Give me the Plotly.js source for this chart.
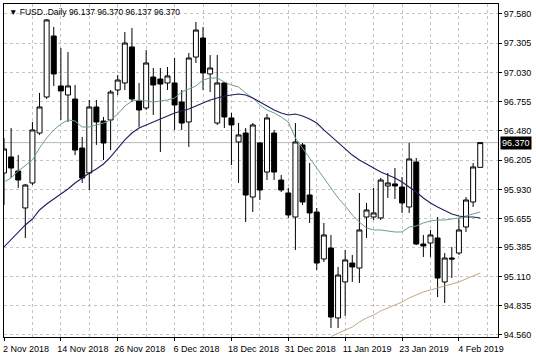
<!DOCTYPE html>
<html>
<head>
<meta charset="utf-8">
<script src="https://cdn.plot.ly/plotly-3.0.1.min.js"></script>
<style>
html,body{margin:0;padding:0;background:#fff;}
#chart{width:536px;height:358px;}
</style>
</head>
<body>
<div id="chart"></div>
<script>
const symbol = 'FUSD..Daily';

const dates = [
'2018-11-02','2018-11-05','2018-11-06','2018-11-07','2018-11-08','2018-11-09','2018-11-12','2018-11-13','2018-11-14','2018-11-15',
'2018-11-16','2018-11-19','2018-11-20','2018-11-21','2018-11-22','2018-11-23','2018-11-26','2018-11-27','2018-11-28','2018-11-29',
'2018-11-30','2018-12-03','2018-12-04','2018-12-05','2018-12-06','2018-12-07','2018-12-10','2018-12-11','2018-12-12','2018-12-13',
'2018-12-14','2018-12-17','2018-12-18','2018-12-19','2018-12-20','2018-12-21','2018-12-24','2018-12-26','2018-12-27','2018-12-28',
'2018-12-31','2019-01-02','2019-01-03','2019-01-04','2019-01-07','2019-01-08','2019-01-09','2019-01-10','2019-01-11','2019-01-14',
'2019-01-15','2019-01-16','2019-01-17','2019-01-18','2019-01-21','2019-01-22','2019-01-23','2019-01-24','2019-01-25','2019-01-28',
'2019-01-29','2019-01-30','2019-01-31','2019-02-01','2019-02-04','2019-02-05','2019-02-06','2019-02-07'];

const open = [96.084, 96.235, 96.103, 95.755, 95.990, 96.460, 96.799, 97.373, 96.903, 96.818,
96.780, 96.319, 96.084, 96.705, 96.573, 96.583, 96.865, 96.931, 97.270, 96.761,
96.696, 96.987, 96.968, 96.931, 96.931, 96.752, 96.564, 97.175, 97.354, 97.016,
96.554, 96.931, 96.602, 96.376, 96.460, 95.858, 96.366, 96.093, 96.460, 96.018,
95.896, 95.670, 96.348, 95.877, 95.717, 95.275, 95.378, 94.720, 95.059, 95.237,
95.190, 95.670, 95.670, 95.661, 95.962, 95.981, 95.952, 95.764, 96.188, 95.416,
95.425, 95.473, 95.059, 95.284, 95.331, 95.576, 95.811, 96.137];

const high = [96.413, 96.507, 96.253, 95.981, 96.564, 96.837, 97.533, 97.458, 97.260, 97.222,
96.912, 96.423, 96.771, 96.771, 96.611, 96.865, 97.006, 97.411, 97.448, 96.931,
97.241, 97.072, 97.072, 97.081, 97.166, 96.865, 97.213, 97.505, 97.458, 97.194,
97.194, 96.940, 96.649, 96.554, 96.507, 96.554, 96.376, 96.639, 96.489, 96.065,
95.943, 96.554, 96.366, 96.178, 95.755, 95.614, 95.501, 95.200, 95.360, 95.313,
95.896, 95.802, 95.943, 96.037, 96.084, 96.131, 96.046, 96.366, 96.225, 95.501,
95.548, 95.670, 95.331, 95.388, 95.661, 95.858, 96.178, 96.370];

const low = [95.783, 96.037, 95.943, 95.473, 95.971, 96.442, 96.780, 96.903, 96.583, 96.564,
96.253, 95.990, 95.924, 96.348, 96.206, 96.300, 96.818, 96.865, 96.752, 96.517,
96.677, 96.630, 96.282, 96.865, 96.489, 96.489, 96.329, 97.119, 96.865, 96.846,
96.536, 96.507, 96.159, 95.990, 95.623, 95.717, 95.830, 96.018, 96.018, 95.905,
95.661, 95.360, 95.783, 95.614, 95.171, 95.247, 94.626, 94.626, 94.739, 95.059,
95.049, 95.473, 95.642, 95.642, 95.849, 95.839, 95.708, 95.708, 95.407, 95.294,
95.294, 94.917, 94.861, 95.096, 95.313, 95.529, 95.764, 96.137];

const close = [96.310, 96.131, 96.018, 95.971, 96.489, 96.705, 97.524, 97.016, 96.856, 96.903,
96.300, 96.037, 96.705, 96.564, 96.366, 96.846, 96.959, 97.307, 96.780, 96.677,
97.119, 96.912, 96.921, 96.997, 96.724, 96.554, 97.166, 97.429, 97.025, 97.072,
96.931, 96.611, 96.536, 96.442, 95.877, 96.536, 95.924, 96.602, 96.093, 95.924,
95.689, 96.376, 95.811, 95.708, 95.237, 95.501, 94.729, 95.124, 95.266, 95.200,
95.548, 95.736, 95.708, 96.018, 95.990, 95.962, 95.802, 96.216, 95.416, 95.397,
95.501, 95.096, 95.284, 95.275, 95.548, 95.830, 96.141, 96.370];

const maFast = [95.999, 96.037, 96.103, 96.159, 96.206, 96.319, 96.413, 96.489, 96.545, 96.583,
96.573, 96.517, 96.517, 96.536, 96.554, 96.583, 96.639, 96.714, 96.761, 96.771,
96.761, 96.752, 96.761, 96.771, 96.790, 96.846, 96.874, 96.903, 96.959, 96.978,
96.978, 96.940, 96.912, 96.893, 96.837, 96.790, 96.724, 96.677, 96.649, 96.611,
96.564, 96.413, 96.319, 96.225, 96.131, 96.037, 95.943, 95.849, 95.774, 95.689,
95.623, 95.567, 95.548, 95.548, 95.538, 95.529, 95.529, 95.576, 95.585, 95.614,
95.632, 95.642, 95.642, 95.651, 95.661, 95.680, 95.698, 95.717];

const maSlow = [95.388, 95.454, 95.520, 95.595, 95.651, 95.736, 95.792, 95.839, 95.887, 95.934,
95.990, 96.037, 96.084, 96.122, 96.169, 96.235, 96.319, 96.395, 96.460, 96.507,
96.536, 96.564, 96.592, 96.620, 96.649, 96.667, 96.686, 96.714, 96.743, 96.771,
96.790, 96.809, 96.818, 96.827, 96.818, 96.790, 96.752, 96.714, 96.677, 96.649,
96.630, 96.639, 96.620, 96.592, 96.554, 96.489, 96.432, 96.366, 96.310, 96.253,
96.206, 96.169, 96.131, 96.093, 96.065, 96.037, 95.999, 95.952, 95.905, 95.849,
95.802, 95.764, 95.727, 95.698, 95.680, 95.670, 95.670, 95.661];

// long MA is below the visible range before bar 46
const maLongValues = [94.545, 94.579, 94.607, 94.635, 94.682, 94.720, 94.748, 94.786, 94.814, 94.842,
94.870, 94.908, 94.936, 94.965, 94.983, 95.002, 95.021, 95.040, 95.059, 95.087, 95.115, 95.143];
const maLongStart = 46;

const tickIndex = [0, 8, 16, 24, 32, 40, 48, 56, 64];
const tickLabels = ['2 Nov 2018','14 Nov 2018','26 Nov 2018','6 Dec 2018','18 Dec 2018','31 Dec 2018','11 Jan 2019','23 Jan 2019','4 Feb 2019'];
const gridIndex = [4, 12, 20, 28, 36, 44, 52, 60, 68];
const priceTicks = [97.580, 97.305, 97.030, 96.755, 96.480, 96.205, 95.930, 95.655, 95.385, 95.110, 94.835, 94.560];

const x = dates.map((d, i) => i);
const maLong = dates.map((d, i) => i >= maLongStart ? maLongValues[i - maLongStart] : null);
const last = dates.length - 1;
const lastClose = close[last];

const gridColor = '#c4c4c4';
const gridDash = '3px,3px';

const traces = [
  {
    type: 'candlestick', x: x, open: open, high: high, low: low, close: close,
    increasing: {line: {color: '#000', width: 1}, fillcolor: '#ffffff'},
    decreasing: {line: {color: '#000', width: 1}, fillcolor: '#000000'},
    whiskerwidth: 0, hoverinfo: 'skip'
  },
  {type: 'scatter', mode: 'lines', x: x, y: maFast, line: {color: '#6aa08a', width: 1}, hoverinfo: 'skip'},
  {type: 'scatter', mode: 'lines', x: x, y: maSlow, line: {color: '#1e1e5a', width: 1.1}, hoverinfo: 'skip'},
  {type: 'scatter', mode: 'lines', x: x, y: maLong, line: {color: '#c2a882', width: 1}, hoverinfo: 'skip', connectgaps: false}
];

const layout = {
  width: 536, height: 358,
  margin: {l: 4, r: 38, t: 4, b: 21},
  paper_bgcolor: '#ffffff', plot_bgcolor: '#ffffff',
  showlegend: false,
  boxgap: 0.3, boxgroupgap: 0,
  font: {family: 'Liberation Sans, Arial, DejaVu Sans, sans-serif', size: 9, color: '#000'},
  xaxis: {
    type: 'linear', range: [0, 69.5], rangeslider: {visible: false},
    tickmode: 'array', tickvals: tickIndex, ticktext: tickLabels,
    ticks: 'outside', ticklen: 3, tickcolor: '#000', ticklabelshift: 22,
    showgrid: true, gridcolor: gridColor, griddash: gridDash, gridwidth: 1,
    minor: {tickmode: 'array', tickvals: gridIndex, showgrid: true, gridcolor: gridColor, griddash: gridDash, gridwidth: 1, ticks: ''},
    showline: true, linecolor: '#000', linewidth: 1, mirror: true, zeroline: false, fixedrange: true
  },
  yaxis: {
    side: 'right', range: [94.541, 97.674],
    tickmode: 'array', tickvals: priceTicks, ticktext: priceTicks.map(v => v.toFixed(3)),
    ticks: 'outside', ticklen: 3, tickcolor: '#000',
    showgrid: true, gridcolor: gridColor, griddash: gridDash, gridwidth: 1,
    showline: true, linecolor: '#000', linewidth: 1, mirror: true, zeroline: false, fixedrange: true
  },
  shapes: [
    {type: 'line', xref: 'paper', x0: 0, x1: 1, yref: 'y', y0: lastClose, y1: lastClose,
     line: {color: '#b8b8b8', width: 1}, layer: 'below'}
  ],
  annotations: [
    {xref: 'paper', yref: 'paper', x: 0, y: 1, xanchor: 'left', yanchor: 'top', xshift: 3, yshift: -1,
     showarrow: false, align: 'left',
     text: '▼ ' + symbol + ' ' + [open[last], high[last], low[last], close[last]].map(v => v.toFixed(3)).join(' '),
     font: {size: 8.5, color: '#000'}},
    {xref: 'paper', yref: 'y', x: 1, y: lastClose, xanchor: 'left', yanchor: 'middle', xshift: 2,
     showarrow: false, text: lastClose.toFixed(3), bgcolor: '#000', borderpad: 1,
     font: {size: 9, color: '#fff'}}
  ]
};

Plotly.newPlot('chart', traces, layout, {staticPlot: true, displayModeBar: false});
</script>
</body>
</html>
